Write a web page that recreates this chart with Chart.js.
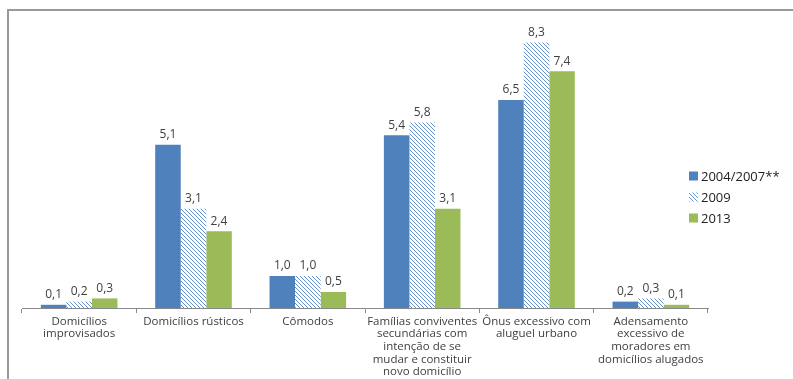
<!DOCTYPE html>
<html>
<head>
<meta charset="utf-8">
<script src="https://cdn.jsdelivr.net/npm/chart.js@4"></script>
<style>
  body { margin: 0; background: #fff; overflow: hidden; }
  #wrap { position: relative; width: 793px; height: 379px; }
  #frame { position: absolute; left: 7px; top: 9px; width: 786px; height: 370px;
           border-top: 2px solid #999; border-left: 2px solid #999; box-sizing: border-box; }
  canvas { position: absolute; left: 0; top: 0; }
</style>
</head>
<body>
<div id="wrap">
  <div id="frame"></div>
  <canvas id="grafico" width="793" height="379"></canvas>
</div>
<script>
// categorias e séries
const categorias = [
    ['Domicílios', 'improvisados'],
    'Domicílios rústicos',
    'Cômodos',
    ['Famílias conviventes', 'secundárias com', 'intenção de se', 'mudar e constituir', 'novo domicílio'],
    ['Ônus excessivo com', 'aluguel urbano'],
    ['Adensamento', 'excessivo de', 'moradores em', 'domicílios alugados']
];
const series = ['2004/2007**', '2009', '2013'];
const valores2004 = [0.1, 5.1, 1.0, 5.4, 6.5, 0.2];
const valores2009 = [0.2, 3.1, 1.0, 5.8, 8.3, 0.3];
const valores2013 = [0.3, 2.4, 0.5, 3.1, 7.4, 0.1];

const AZUL = '#4F81BD';
const VERDE = '#9BBB59';
const TEXTO = '#404040';
const FONTE = '"Open Sans", "Liberation Sans", Arial, sans-serif';

// hachurado diagonal da série 2009
function criarHachura() {
    const c = document.createElement('canvas');
    c.width = 4;
    c.height = 4;
    const g = c.getContext('2d');
    g.fillStyle = '#fff';
    g.fillRect(0, 0, 4, 4);
    g.strokeStyle = '#6690c9';
    g.lineWidth = 1;
    g.beginPath();
    g.moveTo(-1, -1); g.lineTo(5, 5);
    g.moveTo(-1, 3); g.lineTo(1, 5);
    g.moveTo(3, -1); g.lineTo(5, 1);
    g.stroke();
    return g.createPattern(c, 'repeat');
}

const fmt = v => v.toFixed(1).replace('.', ',');

// rótulos de valor acima das barras
const rotulosPlugin = {
    id: 'rotulos',
    afterDatasetsDraw(chart) {
        const ctx = chart.ctx;
        ctx.save();
        ctx.font = '12px ' + FONTE;
        ctx.fillStyle = TEXTO;
        ctx.textAlign = 'center';
        ctx.textBaseline = 'bottom';
        chart.data.datasets.forEach((ds, i) => {
            chart.getDatasetMeta(i).data.forEach((bar, j) => {
                ctx.fillText(fmt(ds.data[j]), bar.x, bar.y - 4);
            });
        });
        ctx.restore();
    }
};

// legenda à direita
const legendaPlugin = {
    id: 'legendaDireita',
    afterDraw(chart) {
        const ctx = chart.ctx;
        ctx.save();
        ctx.font = '13px ' + FONTE;
        ctx.textBaseline = 'middle';
        chart.data.datasets.forEach((ds, i) => {
            const y = 176 + i * 21;
            ctx.fillStyle = ds.backgroundColor;
            ctx.fillRect(689, y - 4.5, 9, 9);
            ctx.fillStyle = '#222';
            ctx.fillText(ds.label, 701, y + 1);
        });
        ctx.restore();
    }
};

const hachura = criarHachura();

new Chart(document.getElementById('grafico'), {
    type: 'bar',
    data: {
        labels: categorias,
        datasets: [
            { label: series[0], data: valores2004, backgroundColor: AZUL },
            { label: series[1], data: valores2009, backgroundColor: hachura },
            { label: series[2], data: valores2013, backgroundColor: VERDE }
        ]
    },
    options: {
        responsive: false,
        animation: false,
        layout: { padding: { left: 22, right: 85, top: 20, bottom: 0 } },
        datasets: {
            bar: { barPercentage: 1, categoryPercentage: 0.67 }
        },
        plugins: {
            legend: { display: false },
            tooltip: { enabled: false }
        },
        scales: {
            x: {
                grid: {
                    display: true,
                    drawOnChartArea: false,
                    drawTicks: true,
                    tickLength: 5,
                    color: '#888',
                    offset: true
                },
                border: { display: true, color: '#888' },
                ticks: {
                    color: TEXTO,
                    padding: 2,
                    maxRotation: 0,
                    autoSkip: false,
                    font: { family: FONTE, size: 11.5, lineHeight: 1.1 }
                },
                afterFit(scale) {
                    scale.height = 71;
                }
            },
            y: {
                display: false,
                min: 0,
                max: 9
            }
        }
    },
    plugins: [rotulosPlugin, legendaPlugin]
});
</script>
</body>
</html>
